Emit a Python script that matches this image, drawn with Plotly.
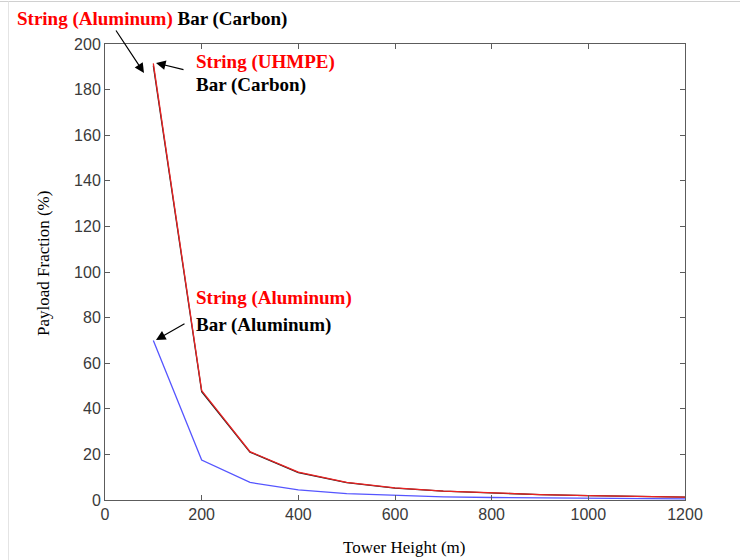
import plotly.graph_objects as go

# Tower height (m)
heights = [100, 200, 300, 400, 500, 600, 700, 800, 900, 1000, 1100, 1200]

# Payload fraction (%) for each string/bar material combination
string_uhmpe_bar_carbon = [191.5, 48.0, 21.2, 12.2, 7.7, 5.3, 3.9, 3.0, 2.4, 1.9, 1.6, 1.3]
string_al_bar_carbon = [190.5, 47.5, 21.0, 12.0, 7.6, 5.2, 3.85, 2.95, 2.35, 1.9, 1.55, 1.3]
string_al_bar_al = [70.0, 17.5, 7.7, 4.4, 2.8, 1.95, 1.4, 1.1, 0.87, 0.7, 0.58, 0.48]

x_ticks = [0, 200, 400, 600, 800, 1000, 1200]
y_ticks = [0, 20, 40, 60, 80, 100, 120, 140, 160, 180, 200]

RED = "rgb(235,35,35)"
BLUE = "rgb(85,85,255)"
AXIS = "#5c5c5c"
TICKFONT = dict(family="Liberation Sans, Arial, sans-serif", size=16, color="#3a3a3a")
SERIF = "Liberation Serif, Times New Roman, serif"

# plot-area geometry in pixels, used to place labels in paper units
L, R, T, B = 105, 58, 44, 60
PW, PH = 743 - L - R, 560 - T - B


def px(xp):
    return (xp - L) / PW


def py(yp):
    return (560 - B - yp) / PH


fig = go.Figure()
fig.add_trace(go.Scatter(x=heights, y=string_al_bar_carbon, mode="lines",
                         line=dict(color="#202020", width=1.3),
                         name="String (Aluminum) Bar (Carbon)"))
fig.add_trace(go.Scatter(x=heights, y=string_uhmpe_bar_carbon, mode="lines",
                         line=dict(color=RED, width=1.3),
                         name="String (UHMPE) Bar (Carbon)"))
fig.add_trace(go.Scatter(x=heights, y=string_al_bar_al, mode="lines",
                         line=dict(color=BLUE, width=1.3),
                         name="String (Aluminum) Bar (Aluminum)"))

label_font = dict(family=SERIF, size=19, color="black")
title_font = dict(family=SERIF, size=17, color="black")


def red(s):
    return f'<span style="color:rgb(255,0,0)">{s}</span>'


def label(xp, yp, text):
    return dict(x=px(xp), y=py(yp), xref="paper", yref="paper", xanchor="left",
                yanchor="middle", text=text, showarrow=False, font=label_font)


annotations = [
    label(15, 19, f"<b>{red('String (Aluminum)')} Bar (Carbon)</b>"),
    label(194, 62, f"<b>{red('String (UHMPE)')}</b>"),
    label(194, 85, "<b>Bar (Carbon)</b>"),
    label(194, 298, f"<b>{red('String (Aluminum)')}</b>"),
    label(194, 325, "<b>Bar (Aluminum)</b>"),
    # axis titles
    dict(x=px(404.5), y=py(547), xref="paper", yref="paper", xanchor="center",
         yanchor="middle", text="Tower Height (m)", showarrow=False, font=title_font),
    dict(x=px(43), y=py(264), xref="paper", yref="paper", xanchor="center",
         yanchor="middle", text="Payload Fraction (%)", textangle=-90,
         showarrow=False, font=title_font),
]

# Pointer arrows from the labels to the curves
arrow_style = dict(xref="x", yref="y", axref="pixel", ayref="pixel", text="",
                   showarrow=True, arrowhead=2, arrowsize=1.6, arrowwidth=1.2,
                   arrowcolor="black", standoff=0, startstandoff=0)
annotations += [
    dict(x=80.7, y=187.3, ax=-29, ay=-44, **arrow_style),
    dict(x=105.5, y=191.7, ax=29, ay=7, **arrow_style),
    dict(x=105.5, y=70.2, ax=30, ay=-17, **arrow_style),
]

axis_common = dict(showgrid=False, zeroline=False, showline=True, linecolor=AXIS,
                   linewidth=1, mirror="ticks", ticks="inside", ticklen=5,
                   tickcolor=AXIS, tickwidth=1, tickfont=TICKFONT, automargin=False)

fig.update_layout(
    width=743, height=560,
    margin=dict(l=L, r=R, t=T, b=B),
    paper_bgcolor="white", plot_bgcolor="white",
    showlegend=False,
    annotations=annotations,
    xaxis=dict(range=[0, 1200], tickvals=x_ticks, **axis_common),
    yaxis=dict(range=[0, 200], tickvals=y_ticks, **axis_common),
    shapes=[
        # thin frame lines along the top and left page edges
        dict(type="line", xref="paper", yref="paper",
             x0=px(0), x1=px(740), y0=py(1.5), y1=py(1.5),
             line=dict(color="#d0d0d0", width=1)),
        dict(type="line", xref="paper", yref="paper",
             x0=px(8.5), x1=px(8.5), y0=py(560), y1=py(1.5),
             line=dict(color="#e4e4e4", width=1)),
    ],
)

fig.write_html("out.html")
